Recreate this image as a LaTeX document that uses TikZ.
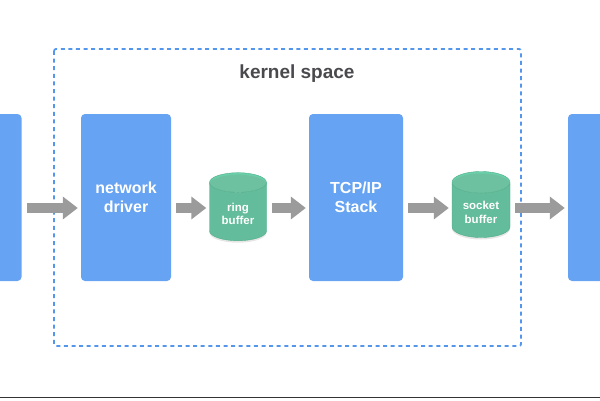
\documentclass[tikz,border=0pt]{standalone}
\usepackage{fontspec}
\setmainfont{Liberation Sans}
\usetikzlibrary{shapes.geometric,arrows.meta,shadows}
\definecolor{boxblue}{RGB}{102,163,242}
\definecolor{bufgreen}{RGB}{92,204,162}
\definecolor{frameblue}{RGB}{84,150,235}
\definecolor{flowgray}{RGB}{155,155,155}
\definecolor{labelgray}{RGB}{74,74,78}
\begin{document}
\begin{tikzpicture}
		[x=1pt,y=1pt,
		boxnode/.style = {shape=rectangle, rounded corners=4pt, fill=boxblue, align=center, text=white, font=\bfseries\fontsize{16}{19.5}\selectfont, minimum height=167pt},
		bufnode/.style = {shape=cylinder, shape border rotate=90, aspect=0.5, draw=bufgreen!85!black, line width=0.4pt, cylinder uses custom fill, cylinder body fill=bufgreen, cylinder end fill=bufgreen!92!white, align=center, text=white, font=\bfseries\fontsize{11.5}{13.5}\selectfont, drop shadow={shadow xshift=0pt, shadow yshift=-2pt, opacity=0.2}},
		flowarrow/.style = {draw=flowgray, line width=10pt, -{Triangle[length=15pt,width=22pt]}, shorten <=5pt, shorten >=3pt}]
		\useasboundingbox (0,0) rectangle (600,400);
		\clip (0,0) rectangle (600,400);
		% kernel space frame
		\draw[frameblue, line width=1.8pt, dash pattern=on 4pt off 3.6pt, rounded corners=2pt] (54,351) rectangle (521,54);
		\node[name=kernel, text=labelgray, font=\bfseries\fontsize{19}{22}\selectfont] at (297,326) {kernel space};
		\coordinate (flow) at (0,192);
		\node[boxnode,name=nic,minimum width=91pt] at (-24,202.5) {};
		\node[boxnode,name=driver,minimum width=90pt] at (126,202.5) {network\\driver};
		\node[bufnode,name=ring,minimum width=57pt,minimum height=68pt] at (238,186) {ring\\buffer};
		\node[boxnode,name=tcp,minimum width=94pt] at (356,202.5) {TCP/IP\\Stack};
		\node[bufnode,name=socket,minimum width=58pt,minimum height=66pt] at (481,187.5) {socket\\buffer};
		\node[boxnode,name=app,minimum width=90pt] at (613,202.5) {};
		% data flow
		\draw[flowarrow] (nic.east |- flow) -- (driver.west |- flow);
		\draw[flowarrow] (driver.east |- flow) -- (ring.west |- flow);
		\draw[flowarrow] (ring.east |- flow) -- (tcp.west |- flow);
		\draw[flowarrow] (tcp.east |- flow) -- (socket.west |- flow);
		\draw[flowarrow] (socket.east |- flow) -- (app.west |- flow);
		\draw[black!80, line width=1.5pt] (0,2.5) -- (600,2.5);
	\end{tikzpicture}
\end{document}
